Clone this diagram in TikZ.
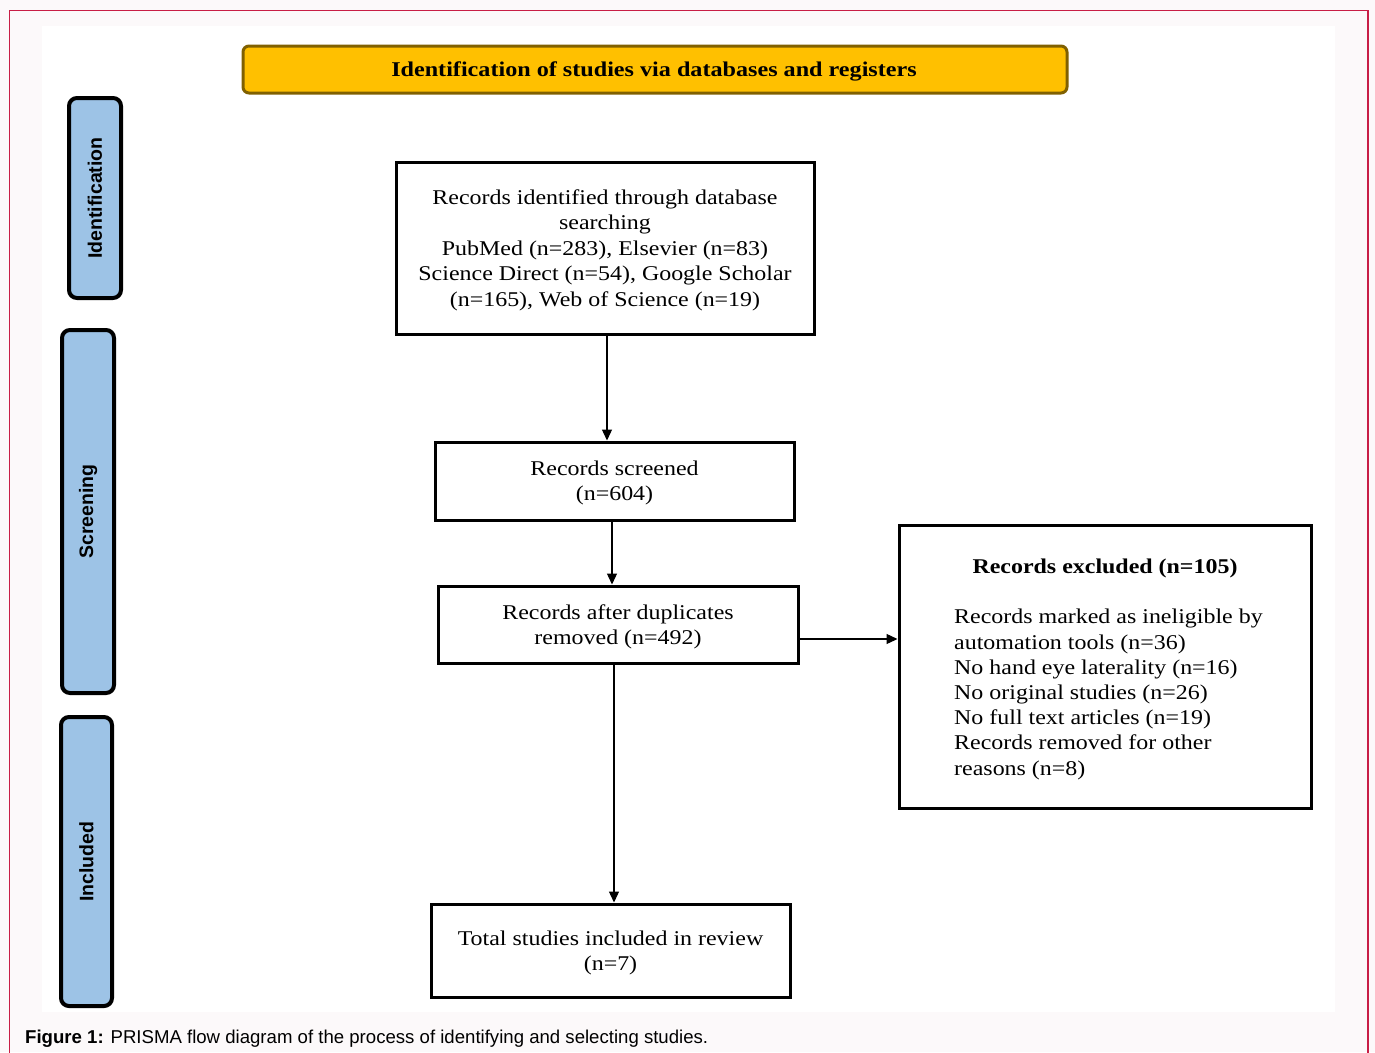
\documentclass[tikz,border=0pt]{standalone}
\usepackage{fontspec}
\setmainfont{Liberation Serif}
\setsansfont{Liberation Sans}
\newfontfamily\wideserif[FakeStretch=1.14]{Liberation Serif}
\newfontfamily\bannerserif[FakeStretch=1.15]{Liberation Serif}
\usetikzlibrary{arrows.meta,calc}
\definecolor{pagebg}{RGB}{252,249,250}
\definecolor{frame}{RGB}{200,30,70}
\definecolor{labelblue}{RGB}{157,195,230}
\definecolor{banner}{RGB}{255,192,0}
\definecolor{bannerline}{RGB}{128,96,0}
\tikzset{
  flowbox/.style={draw=black, line width=3pt, fill=white, inner sep=0pt, align=center,
    font=\wideserif\fontsize{21}{25.5}\selectfont},
  phase/.style={draw=black, line width=4pt, fill=labelblue, rounded corners=8pt, rotate=90,
    inner sep=0pt, font=\sffamily\bfseries\fontsize{19.5}{24}\selectfont},
  flowarrow/.style={line width=1.3pt, -{Triangle[length=11pt,width=10pt]}},
}
\begin{document}
\begin{tikzpicture}[x=1pt,y=-1pt]
\useasboundingbox (0,0) rectangle (1375,1052);
\fill[pagebg] (0,0) rectangle (1375,1052);
\fill[white] (42,26) rectangle (1335,1012);
\draw[frame, line width=1.5pt] (9.5,1060) -- (9.5,10.5) -- (1368,10.5) -- (1368,1060);

% banner
\node[draw=bannerline, line width=3pt, fill=banner, rounded corners=6pt,
  minimum width=824, minimum height=47, inner sep=0pt] (banner) at (655,69.5) {};
\node[inner sep=0pt, font=\bannerserif\bfseries\fontsize{21}{24}\selectfont] (bannertext) at (654,71.5)
  {Identification of studies via databases and registers};

% phase labels
\node[phase, minimum width=200, minimum height=52] (ident) at (95,198) {Identification};
\node[phase, minimum width=363, minimum height=52] (screen) at (88,511.5) {Screening};
\node[phase, minimum width=289, minimum height=51] (incl) at (86.5,861.5) {Included};

% flow boxes
\node[flowbox, minimum width=418, minimum height=172] (ident1) at (605,248) {};
\node[align=center, inner sep=0pt, font=\wideserif\fontsize{21}{25.5}\selectfont] (ident1text) at (605,250)
  {Records identified through database\\searching\\PubMed (n=283), Elsevier (n=83)\\Science Direct (n=54), Google Scholar\\(n=165), Web of Science (n=19)};
\node[flowbox, minimum width=359, minimum height=78] (screened) at (614.5,481) {};
\node[align=center, inner sep=0pt, font=\wideserif\fontsize{21}{25.5}\selectfont] (screenedtext) at (614.5,483)
  {Records screened\\(n=604)};
\node[flowbox, minimum width=360, minimum height=77] (dup) at (618,624.5) {};
\node[align=center, inner sep=0pt, font=\wideserif\fontsize{21}{25.5}\selectfont] (duptext) at (618,627)
  {Records after duplicates\\removed (n=492)};
\node[flowbox, minimum width=412, minimum height=283] (excl) at (1105,666.5) {};
\node[font=\wideserif\bfseries\fontsize{21}{25.5}\selectfont, inner sep=0pt] (excltitle) at (1105,568)
  {Records excluded (n=105)};
\node[anchor=west, align=left, inner sep=0pt, font=\wideserif\fontsize{21}{25.2}\selectfont] (excllist) at (954,694.5)
  {Records marked as ineligible by\\automation tools (n=36)\\No hand eye laterality (n=16)\\No original studies (n=26)\\No full text articles (n=19)\\Records removed for other\\reasons (n=8)};
\node[flowbox, minimum width=359, minimum height=93] (total) at (610.5,950.5) {};
\node[align=center, inner sep=0pt, font=\wideserif\fontsize{21}{25.5}\selectfont] (totaltext) at (610.5,953)
  {Total studies included in review\\(n=7)};

% connector anchor points
\coordinate (a1s) at ([xshift=2pt]ident1.south);
\coordinate (a2s) at ([xshift=-2.5pt]screened.south);
\coordinate (a3s) at ([xshift=-4pt]dup.south);
\coordinate (a4s) at ([yshift=-14.5pt]dup.east);

% connectors
\draw[flowarrow] (a1s) -- (a1s |- screened.north);
\draw[flowarrow] (a2s) -- (a2s |- dup.north);
\draw[flowarrow] (a3s) -- (a3s |- total.north);
\draw[flowarrow] (a4s) -- (a4s -| excl.west);

% caption
\node[anchor=base west, inner sep=0pt, font=\sffamily\fontsize{18.6}{22}\selectfont] (caption) at (25,1043)
  {\textbf{Figure 1:} PRISMA flow diagram of the process of identifying and selecting studies.};
\end{tikzpicture}
\end{document}
